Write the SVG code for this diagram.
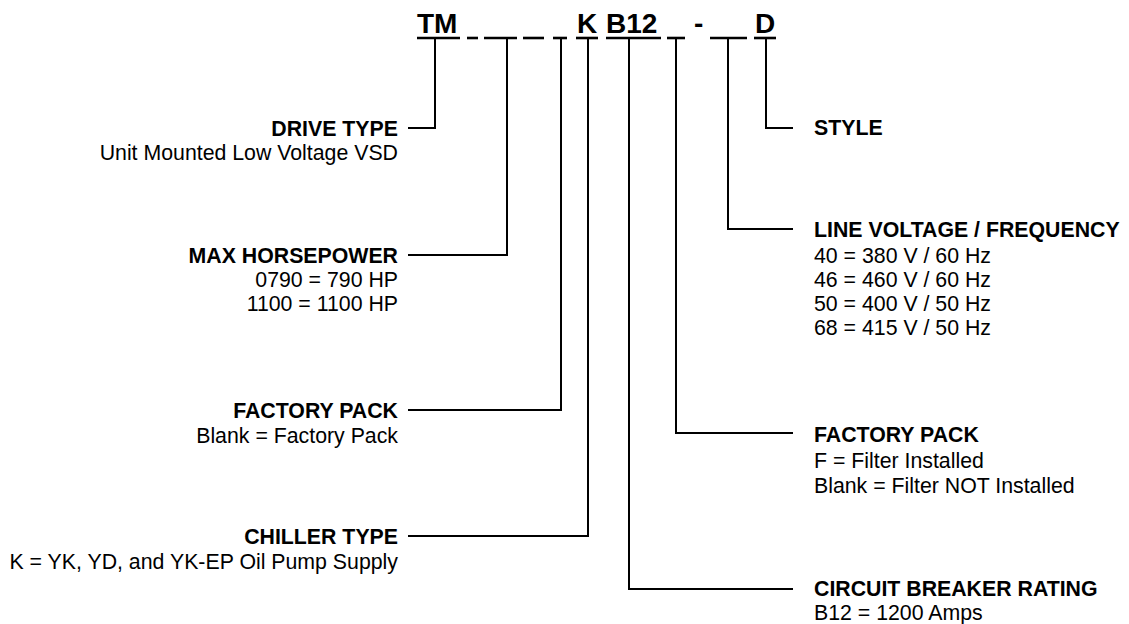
<svg xmlns="http://www.w3.org/2000/svg" width="1129" height="624" viewBox="0 0 1129 624">
<style>
text{font-family:"Liberation Sans",Arial,sans-serif;fill:#000}
.h{font-size:28px;font-weight:bold}
.b{font-size:21.3px;font-weight:bold}
.n{font-size:21.3px}
.l{text-anchor:end}
.c{fill:none;stroke:#000;stroke-width:2}
.u{stroke:#000;stroke-width:2.6}
</style>
<rect width="1129" height="624" fill="#fff"/>
<g id="code">
<text class="h" x="417" y="33">TM</text>
<text class="h" x="577" y="33">K</text>
<text class="h" x="606" y="33">B12</text>
<text class="h" x="694" y="33">-</text>
<text class="h" x="755" y="33">D</text>
<g class="u">
<line x1="417" y1="38" x2="460" y2="38"/>
<line x1="467" y1="38" x2="478" y2="38"/>
<line x1="484" y1="38" x2="517" y2="38"/>
<line x1="523" y1="38" x2="544" y2="38"/>
<line x1="553" y1="38" x2="567" y2="38"/>
<line x1="576" y1="38" x2="598" y2="38"/>
<line x1="606" y1="38" x2="661" y2="38"/>
<line x1="667" y1="38" x2="685" y2="38"/>
<line x1="710" y1="38" x2="747" y2="38"/>
<line x1="754" y1="38" x2="776" y2="38"/>
</g>
</g>
<g id="connectors" class="c">
<polyline points="435,38 435,128 408,128"/>
<polyline points="507,38 507,255 408,255"/>
<polyline points="561,38 561,410 408,410"/>
<polyline points="588,38 588,536 408,536"/>
<polyline points="629,38 629,589 793,589"/>
<polyline points="676,38 676,433 793,433"/>
<polyline points="728,38 728,229 793,229"/>
<polyline points="766,38 766,128 793,128"/>
</g>
<g id="drive-type">
<text class="b l" x="398" y="136">DRIVE TYPE</text>
<text class="n l" x="398" y="160">Unit Mounted Low Voltage VSD</text>
</g>
<g id="max-horsepower">
<text class="b l" x="398" y="263">MAX HORSEPOWER</text>
<text class="n l" x="398" y="287">0790 = 790 HP</text>
<text class="n l" x="398" y="311">1100 = 1100 HP</text>
</g>
<g id="factory-pack-left">
<text class="b l" x="398" y="418">FACTORY PACK</text>
<text class="n l" x="398" y="443">Blank = Factory Pack</text>
</g>
<g id="chiller-type">
<text class="b l" x="398" y="544">CHILLER TYPE</text>
<text class="n l" x="398" y="569">K = YK, YD, and YK-EP Oil Pump Supply</text>
</g>
<g id="style">
<text class="b" x="814" y="135">STYLE</text>
</g>
<g id="line-voltage">
<text class="b" x="814" y="237">LINE VOLTAGE / FREQUENCY</text>
<text class="n" x="814" y="263">40 = 380 V / 60 Hz</text>
<text class="n" x="814" y="287">46 = 460 V / 60 Hz</text>
<text class="n" x="814" y="311">50 = 400 V / 50 Hz</text>
<text class="n" x="814" y="335">68 = 415 V / 50 Hz</text>
</g>
<g id="factory-pack-right">
<text class="b" x="814" y="442">FACTORY PACK</text>
<text class="n" x="814" y="468">F = Filter Installed</text>
<text class="n" x="814" y="493">Blank = Filter NOT Installed</text>
</g>
<g id="circuit-breaker">
<text class="b" x="814" y="596">CIRCUIT BREAKER RATING</text>
<text class="n" x="814" y="620">B12 = 1200 Amps</text>
</g>
</svg>
